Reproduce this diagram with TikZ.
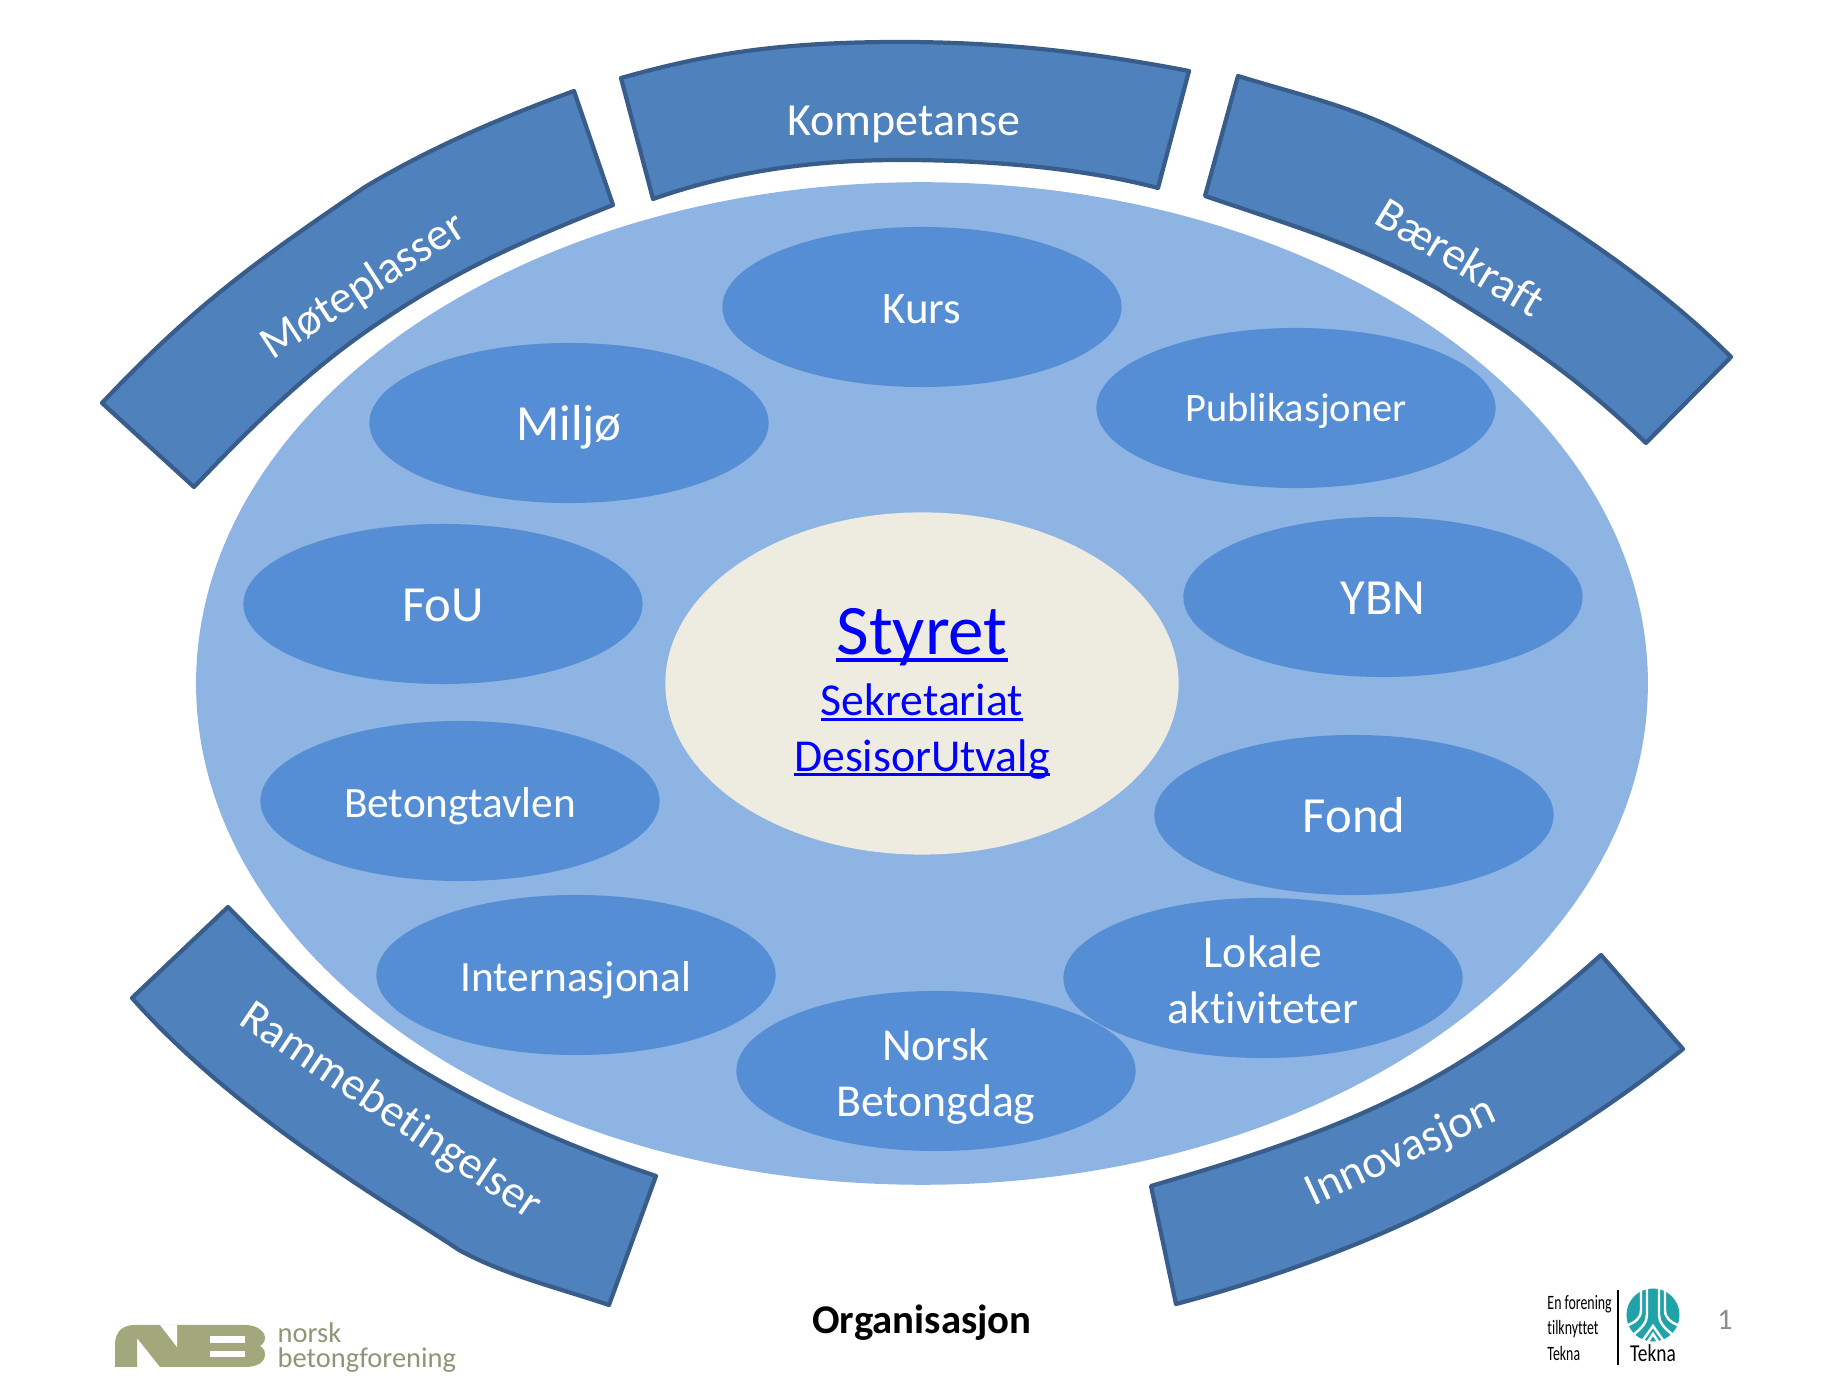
\documentclass[tikz,border=0pt]{standalone}
\usepackage{fontspec}
\setmainfont{Carlito}[Ligatures=NoCommon]
\usetikzlibrary{shapes.geometric}
\definecolor{bannerfill}{HTML}{4F81BD}
\definecolor{bannerline}{HTML}{385D8A}
\definecolor{bigfill}{HTML}{8EB4E3}
\definecolor{mainfill}{HTML}{558ED5}
\definecolor{centerfill}{HTML}{EEECE1}
\definecolor{logogreen}{HTML}{A3A87C}
\definecolor{logotext}{HTML}{8F9577}
\definecolor{teknateal}{HTML}{1FA3A8}
\newcommand{\lnk}[1]{\textcolor{blue}{\setbox0\hbox{#1}\rlap{\rule[-.1em]{\wd0}{.05em}}\box0}}
\begin{document}
\begin{tikzpicture}[x=0.01cm,y=-0.01cm,
	main/.style = {ellipse, fill=mainfill, text=white, minimum width=3.99cm, minimum height=1.6cm, inner sep=0pt, align=center},
	banner/.style = {draw=bannerline, fill=bannerfill, line width=1.2pt, line join=round},
	bannertext/.style = {text=white, font=\fontsize{13.1}{15.7}\selectfont},
	smalltext/.style = {font=\fontsize{12.3}{15}\selectfont, text height=9.2pt, text depth=0pt},
	midtext/.style = {font=\fontsize{13}{15.7}\selectfont},
	bigtext/.style = {font=\fontsize{14.4}{17}\selectfont, text height=10.2pt, text depth=0pt},
	logoline/.style = {white, line width=.7pt}]
	\useasboundingbox (0,0) rectangle (1844,1383);

	\draw[banner] (621,78) .. controls (700,56) and (770,42) .. (900,42) .. controls (1000,42) and (1090,52) .. (1189,71) -- (1158,188) .. controls (1090,170) and (1000,160) .. (900,160) .. controls (810,160) and (730,172) .. (653,199) -- cycle;
	\draw[banner] (102,403) .. controls (190,310) and (250,265) .. (365,187) .. controls (430,148) and (500,118) .. (574,91) -- (613,205) .. controls (530,238) and (460,268) .. (383,320) .. controls (310,368) and (250,428) .. (194,487) -- cycle;
	\draw[banner] (1238,76) .. controls (1300,95) and (1350,106) .. (1404,133) .. controls (1500,180) and (1640,265) .. (1731,357) -- (1646,443) .. controls (1580,380) and (1530,345) .. (1440,290) .. controls (1360,245) and (1290,225) .. (1205,196) -- cycle;
	\draw[banner] (228,907) .. controls (280,960) and (340,1020) .. (416,1067) .. controls (490,1112) and (570,1147) .. (656,1176) -- (609,1305) .. controls (555,1287) and (505,1275) .. (459,1250) .. controls (400,1210) and (240,1120) .. (132,998) -- cycle;
	\draw[banner] (1151,1186) .. controls (1240,1160) and (1320,1135) .. (1397,1097) .. controls (1470,1062) and (1540,1010) .. (1601,955) -- (1683,1049) .. controls (1620,1100) and (1530,1160) .. (1426,1213) .. controls (1350,1250) and (1260,1282) .. (1176,1304) -- cycle;

	\node[bannertext] (kompetanse) at (904,124) {Kompetanse};
	\node[bannertext, rotate=33] (moteplasser) at (364,287) {Møteplasser};
	\node[bannertext, rotate=-31] (barekraft) at (1461,257) {Bærekraft};
	\node[bannertext, rotate=-34] (rammebetingelser) at (390,1112) {Rammebetingelser};
	\node[bannertext, rotate=25] (innovasjon) at (1401,1153) {Innovasjon};

	\node[ellipse, fill=bigfill, minimum width=14.51cm, minimum height=10.02cm, inner sep=0pt] (big) at (922,683.5) {};
	\node[ellipse, fill=centerfill, minimum width=5.13cm, minimum height=3.42cm, inner sep=0pt, align=center, font=\fontsize{13}{15.7}\selectfont] (styret) at (922,683.5) {\rule{0pt}{19pt}{\fontsize{20.2}{24}\selectfont\lnk{Styret}}\\[1.7pt]\lnk{Sekretariat}\\\lnk{DesisorUtvalg}};

	\node[main, smalltext, font=\fontsize{12.8}{15}\selectfont] (kurs) at (922,307) {Kurs};
	\node[main, smalltext, font=\fontsize{11.5}{14}\selectfont, text height=7.9pt] (publikasjoner) at (1296,408) {Publikasjoner};
	\node[main, bigtext] (ybn) at (1383,597) {YBN};
	\node[main, bigtext] (fond) at (1354,815) {Fond};
	\node[main, midtext] (lokale) at (1263,978) {\rule{0pt}{10pt}Lokale\\aktiviteter};
	\node[main, midtext] (norsk) at (936,1071) {\rule{0pt}{12.2pt}Norsk\\Betongdag};
	\node[main, smalltext] (internasjonal) at (576,975) {Internasjonal};
	\node[main, smalltext] (betongtavlen) at (460,801) {Betongtavlen};
	\node[main, bigtext] (fou) at (443,604) {FoU};
	\node[main, bigtext] (miljo) at (569,423) {Miljø};

	\node[font=\bfseries\fontsize{11.6}{14}\selectfont] (organisasjon) at (922,1323) {Organisasjon};
	\node[text=gray!90, font=\fontsize{8.5}{10}\selectfont] (sidetall) at (1725,1320) {1};

	\fill[logogreen] (115,1367) -- (115,1345) .. controls (115,1332) and (122,1325) .. (135,1325) -- (245,1325) .. controls (258,1325) and (265,1332) .. (265,1338) .. controls (265,1342) and (262,1345) .. (260,1346) .. controls (262,1347) and (265,1350) .. (265,1354) .. controls (265,1362) and (258,1367) .. (245,1367) -- (160,1367) -- (137,1338) -- (137,1367) -- cycle;
	\fill[white] (160,1325) -- (177,1325) -- (177,1347) -- cycle;
	\fill[white] (210,1336) rectangle (245,1343);
	\fill[white] (210,1351) rectangle (245,1357);
	\node[anchor=west, text=logotext, align=left, inner sep=0pt, font=\fontsize{8.1}{7.1}\selectfont] (logotekst) at (277,1348) {norsk\\betongforening};

	\node[anchor=west, xscale=.68, align=left, inner sep=0pt, font=\fontsize{5.8}{7.25}\selectfont] (tilknyttet) at (1547,1328) {En forening\\tilknyttet\\Tekna};
	\draw[line width=.5pt] (1618,1290) -- (1618,1365);
	\node[circle, fill=teknateal, minimum size=.53cm, inner sep=0pt] (symbol) at (1653,1315) {};
	\draw[logoline] (1641,1288) -- (1641,1310) .. controls (1641,1318) and (1636,1322) .. (1626,1326);
	\draw[logoline] (1647,1288) -- (1647,1315) .. controls (1647,1322) and (1642,1328) .. (1633,1335);
	\draw[logoline] (1659,1288) -- (1659,1315) .. controls (1659,1322) and (1664,1328) .. (1673,1335);
	\draw[logoline] (1665,1288) -- (1665,1310) .. controls (1665,1318) and (1670,1322) .. (1680,1326);
	\draw[logoline] (1641,1343) -- (1653,1326) -- (1665,1343);
	\draw[logoline] (1647,1343) -- (1653,1334) -- (1659,1343);
	\node[xscale=.8, font=\fontsize{6.9}{8}\selectfont] (tekna) at (1653,1353) {Tekna};
\end{tikzpicture}
\end{document}
